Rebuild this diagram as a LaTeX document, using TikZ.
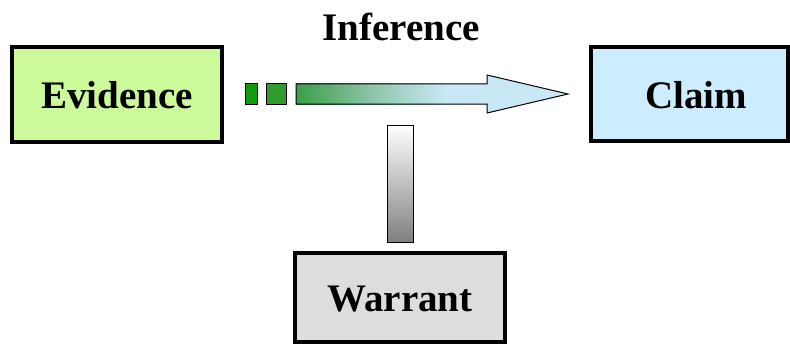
\documentclass[tikz,border=0pt]{standalone}
\usepackage{fontspec}
\setmainfont{Liberation Serif}
\begin{document}
\begin{tikzpicture}[x=1pt,y=-1pt,
  lbl/.style={font=\bfseries\fontsize{39}{42}\selectfont},
  boxframe/.style={draw=black,line width=4.5pt}]
\useasboundingbox (0,0) rectangle (790,345);
\definecolor{evfill}{HTML}{CCFA9A}
\definecolor{clfill}{HTML}{CCECFF}
\definecolor{wafill}{HTML}{DDDDDD}
\definecolor{gA}{HTML}{109B10}
\definecolor{gB}{HTML}{2E9B2E}
\definecolor{gC}{HTML}{3A9E48}
\definecolor{gM}{HTML}{8CC4A8}
\definecolor{bl}{HTML}{C8E8F6}
% Evidence
\fill[evfill] (12,47) rectangle (222,142);
\draw[boxframe] (12,47) rectangle (222,142);
\node[lbl] (ev) at (117,95) {Evidence};
% Claim
\fill[clfill] (591,47) rectangle (788,141);
\draw[boxframe] (591,47) rectangle (788,141);
\node[lbl] (cl) at (696,95) {Claim};
% Warrant
\fill[wafill] (295,253) rectangle (505,342);
\draw[boxframe] (295,253) rectangle (505,342);
\node[lbl] (wa) at (400,299) {Warrant};
% Inference label
\node[lbl] (inf) at (401,27) {Inference};
% dashed start of arrow
\draw[fill=gA,line width=1pt] (245,84) rectangle (257,104);
\draw[fill=gB,line width=1pt] (266,84) rectangle (286,104);
% arrow
\shade[left color=gC,right color=bl,middle color=gM] (296,84) rectangle (445,104);
\fill[bl] (444,84) -- (487,84) -- (487,75) -- (568,94) -- (487,113) -- (487,104) -- (444,104) -- cycle;
\draw[line width=1pt,line join=miter]
  (296,84) -- (487,84) -- (487,75) -- (568,94) -- (487,113) -- (487,104) -- (296,104) -- cycle;
% warrant bar
\draw[line width=1pt,top color=white,bottom color=black!50] (387,125) rectangle (413,242);
\end{tikzpicture}
\end{document}
